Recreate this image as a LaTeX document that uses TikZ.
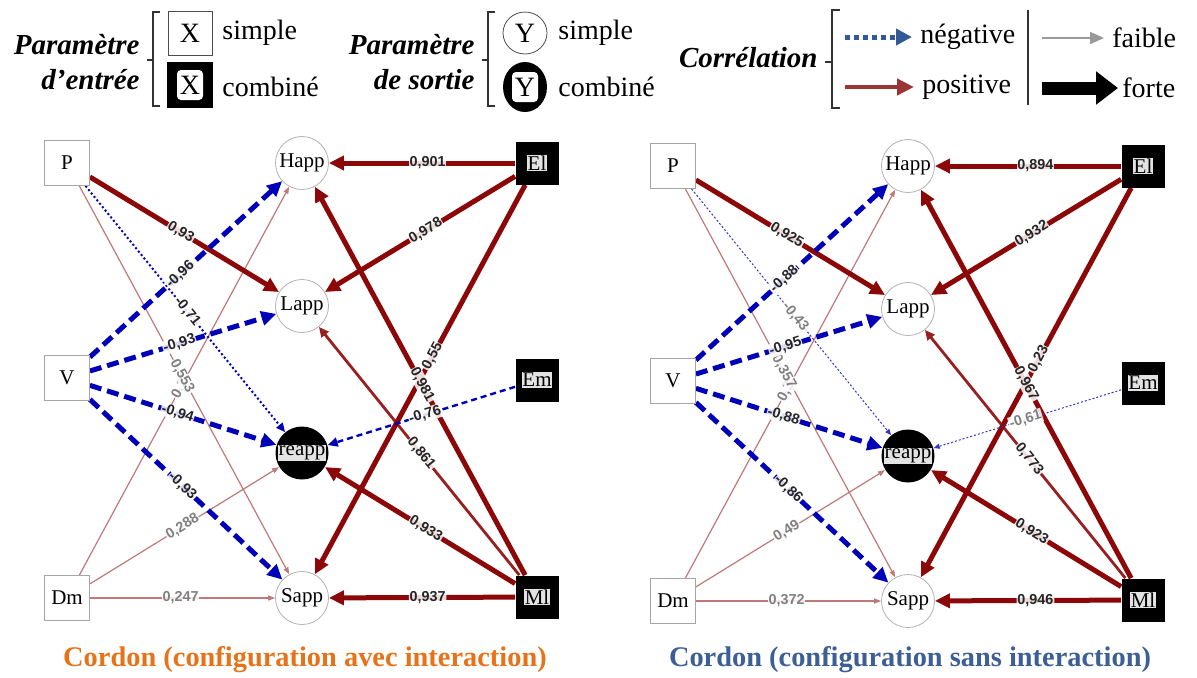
\documentclass[tikz,border=0pt]{standalone}
\usepackage{fontspec}
\setmainfont{Liberation Serif}
\setsansfont{Liberation Sans}
\usepackage{xcolor}
\usepackage{tikz}
\usetikzlibrary{
  positioning,
  arrows.meta,
  shapes.geometric
}
\definecolor{rougefonce}{RGB}{140,8,8}
\definecolor{rougeclair}{RGB}{192,120,120}
\definecolor{bleufonce}{RGB}{0,0,185}
\definecolor{bleuleg}{RGB}{50,90,150}
\definecolor{rougeleg}{RGB}{155,52,52}
\definecolor{orangetitre}{RGB}{230,115,25}
\definecolor{bleutitre}{RGB}{60,95,150}
\pgfdeclarelayer{fond}
\pgfsetlayers{fond,main}
% arete : style, depart, arrivee, style de l'etiquette, etiquette
\newcommand{\arete}[5]{%
  \begin{pgfonlayer}{fond}
    \draw[#1] (#2) -- (#3);
  \end{pgfonlayer}
  \path (#2) -- node[#4] {#5} (#3);
}

\begin{document}
\begin{tikzpicture}[
    x=0.5pt, y=-0.5pt,
    txtnoeud/.style={font=\fontsize{10.5}{12}\selectfont},
    entree/.style={draw=gray!70, fill=white, minimum size=22.5pt, inner sep=0pt, txtnoeud},
    entreecomb/.style={fill=black, minimum size=21.5pt, inner sep=0pt},
    sortie/.style={draw=gray!60, circle, minimum size=26.5pt, inner sep=0pt, fill=white, txtnoeud},
    sortiecomb/.style={fill=black, circle, minimum size=26.5pt, inner sep=0pt},
    etiqcomb/.style={fill=gray!22, inner sep=0.4pt, txtnoeud},
    lab/.style={sloped, pos=0.47, fill=white, fill opacity=0.85, text opacity=1, inner sep=0.4pt,
        font=\sffamily\bfseries\fontsize{7.2}{8}\selectfont, text=black!85},
    labf/.style={lab, text=gray},
    fortpos/.style={draw=rougefonce, line width=2.5pt, -{Triangle[length=7.5pt,width=7pt]}},
    moypos/.style={draw=rougefonce!90, line width=1.4pt, -{Triangle[length=5pt,width=4.5pt]}},
    faiblepos/.style={draw=rougeclair, line width=0.6pt, -{Triangle[length=3.5pt,width=2.5pt]}},
    fortneg/.style={draw=bleufonce, line width=2.5pt, dash pattern=on 6pt off 3pt, -{Triangle[length=7.5pt,width=7pt]}},
    moyneg/.style={draw=bleufonce, line width=1.2pt, dash pattern=on 3pt off 2pt, -{Triangle[length=5pt,width=4.5pt]}},
    pointneg/.style={draw=bleufonce, line width=1pt, dash pattern=on 1pt off 1.2pt, -{Triangle[length=4.5pt,width=4pt]}},
    faibleneg/.style={draw=bleufonce!80, line width=0.5pt, dash pattern=on 1pt off 1pt, -{Triangle[length=3pt,width=2.5pt]}},
    legtxt/.style={font=\fontsize{14}{16}\selectfont, anchor=west, inner sep=0pt},
    legtitre/.style={font=\bfseries\itshape\fontsize{14.5}{16}\selectfont, anchor=east, inner sep=0pt},
    legcrochet/.style={draw=black!80, line width=0.6pt}
]
    \useasboundingbox (0,0) rectangle (1197,677);

    % legende : parametre d'entree
    \node[legtitre] (tin1) at (140,45) {Paramètre};
    \node[legtitre] (tin2) at (140,80) {d’entrée};
    \draw[legcrochet] (160,12) -- (153,12) -- (153,106) -- (160,106);
    \draw[legcrochet] (147,60) -- (153,60);
    \node[draw=black!70, minimum size=22pt, inner sep=0pt, font=\fontsize{14}{16}\selectfont] (xs) at (190,33) {X};
    \node[fill=black, minimum size=23pt] (xc) at (190,85) {};
    \node[fill=white, rounded corners=2pt, minimum width=13pt, minimum height=15pt, inner sep=0pt,
        font=\fontsize{14}{16}\selectfont] (xct) at (xc) {X};
    \node[legtxt] (ls1) at (222,33) {simple};
    \node[legtxt] (lc1) at (222,87) {combiné};

    % legende : parametre de sortie
    \node[legtitre] (tout1) at (475,45) {Paramètre};
    \node[legtitre] (tout2) at (475,80) {de sortie};
    \draw[legcrochet] (495,12) -- (488,12) -- (488,106) -- (495,106);
    \draw[legcrochet] (482,60) -- (488,60);
    \node[draw=black!70, ellipse, minimum width=22pt, minimum height=21pt, inner sep=0pt,
        font=\fontsize{14}{16}\selectfont] (ys) at (525,33) {Y};
    \node[fill=black, ellipse, minimum width=22pt, minimum height=25pt] (yc) at (525,87) {};
    \node[fill=white, rounded corners=2pt, minimum width=13pt, minimum height=15pt, inner sep=0pt,
        font=\fontsize{14}{16}\selectfont] (yct) at (yc) {Y};
    \node[legtxt] (ls2) at (558,33) {simple};
    \node[legtxt] (lc2) at (558,87) {combiné};

    % legende : correlation
    \node[legtitre] (tcor) at (818,58) {Corrélation};
    \draw[legcrochet] (840,10) -- (832,10) -- (832,108) -- (840,108);
    \draw[legcrochet] (825,62) -- (832,62);
    \coordinate (n1) at (845,37);
    \coordinate (n2) at (912,37);
    \draw[draw=bleuleg, line width=2.5pt, dash pattern=on 2.5pt off 2pt, -{Triangle[length=8pt,width=8pt]}] (n1) -- (n2);
    \node[legtxt] (lneg) at (920,37) {négative};
    \coordinate (p1) at (845,87);
    \coordinate (p2) at (914,87);
    \draw[draw=rougeleg, line width=2.2pt, -{Triangle[length=8.5pt,width=8pt]}] (p1) -- (p2);
    \node[legtxt] (lpos) at (922,87) {positive};
    \draw[legcrochet] (1028,10) -- (1028,105);
    \coordinate (f1) at (1042,38);
    \coordinate (f2) at (1104,38);
    \draw[draw=gray!80, line width=0.8pt, -{Triangle[length=7pt,width=6pt]}] (f1) -- (f2);
    \node[legtxt] (lfai) at (1112,38) {faible};
    \coordinate (g1) at (1042,88);
    \coordinate (g2) at (1118,88);
    \draw[draw=black, line width=6.5pt, -{Triangle[length=11pt,width=16pt]}] (g1) -- (g2);
    \node[legtxt] (lfor) at (1122,88) {forte};

    % noeuds des deux configurations
    \foreach \c/\dx/\dy in {a/0/0, s/606/3} {
        \node[entree] (\c P) at (67+\dx,163+\dy) {P};
        \node[entree] (\c V) at (67+\dx,378+\dy) {V};
        \node[entree] (\c Dm) at (67+\dx,598+\dy) {Dm};
        \node[sortie] (\c Happ) at (302+\dx,163+\dy) {Happ};
        \node[sortie] (\c Lapp) at (302+\dx,306+\dy) {Lapp};
        \node[sortiecomb] (\c reapp) at (302+\dx,453+\dy) {};
        \node[etiqcomb] (\c reappt) at (\c reapp) {reapp};
        \node[sortie] (\c Sapp) at (302+\dx,598+\dy) {Sapp};
        \node[entreecomb] (\c El) at (537+\dx,163+\dy) {};
        \node[etiqcomb] (\c Elt) at (\c El) {El};
        \node[entreecomb] (\c Em) at (537+\dx,380+\dy) {};
        \node[etiqcomb] (\c Emt) at (\c Em) {Em};
        \node[entreecomb] (\c Ml) at (537+\dx,597+\dy) {};
        \node[etiqcomb] (\c Mlt) at (\c Ml) {Ml};
    }

    % configuration avec interaction : entrees
    \arete{faiblepos}{aDm}{aHapp}{labf, pos=0.48}{0,2}
    \arete{faiblepos}{aP}{aSapp}{labf, pos=0.49}{0,553}
    \arete{faiblepos}{aDm}{areapp}{labf, pos=0.49}{0,288}
    \arete{faiblepos}{aDm}{aSapp}{labf, pos=0.49}{0,247}
    \arete{pointneg}{aP}{areapp}{lab, pos=0.51}{-0,71}
    \arete{fortpos}{aP}{aLapp}{lab, pos=0.48}{0,93}
    \arete{fortneg}{aV}{aHapp}{lab, pos=0.47}{-0,96}
    \arete{fortneg}{aV}{aLapp}{lab, pos=0.48}{-0,93}
    \arete{fortneg}{aV}{areapp}{lab, pos=0.47}{-0,94}
    \arete{fortneg}{aV}{aSapp}{lab, pos=0.48}{-0,93}

    % configuration avec interaction : parametres combines
    \arete{moypos}{aMl}{aLapp}{lab, pos=0.49}{0,861}
    \arete{fortpos}{aEl}{aHapp}{lab}{0,901}
    \arete{fortpos}{aEl}{aLapp}{lab}{0,978}
    \arete{fortpos}{aEl}{aSapp}{lab, pos=0.44}{0,55}
    \arete{fortpos}{aMl}{aHapp}{lab, pos=0.49}{0,981}
    \arete{fortpos}{aMl}{areapp}{lab}{0,933}
    \arete{fortpos}{aMl}{aSapp}{lab}{0,937}
    \arete{moyneg}{aEm}{areapp}{lab, pos=0.48}{-0,76}

    % configuration sans interaction : entrees
    \arete{faiblepos}{sDm}{sHapp}{labf, pos=0.48}{0,3}
    \arete{faiblepos}{sP}{sSapp}{labf, pos=0.47}{0,357}
    \arete{faiblepos}{sDm}{sreapp}{labf, pos=0.48}{0,49}
    \arete{faiblepos}{sDm}{sSapp}{labf, pos=0.49}{0,372}
    \arete{faibleneg}{sP}{sreapp}{labf, pos=0.52}{-0,43}
    \arete{fortpos}{sP}{sLapp}{lab, pos=0.48}{0,925}
    \arete{fortneg}{sV}{sHapp}{lab, pos=0.46}{-0,88}
    \arete{fortneg}{sV}{sLapp}{lab, pos=0.48}{-0,95}
    \arete{fortneg}{sV}{sreapp}{lab, pos=0.47}{-0,88}
    \arete{fortneg}{sV}{sSapp}{lab, pos=0.48}{-0,86}

    % configuration sans interaction : parametres combines
    \arete{moypos}{sMl}{sLapp}{lab, pos=0.48}{0,773}
    \arete{fortpos}{sEl}{sHapp}{lab, pos=0.46}{0,894}
    \arete{fortpos}{sEl}{sLapp}{lab}{0,932}
    \arete{fortpos}{sEl}{sSapp}{lab, pos=0.44}{0,23}
    \arete{fortpos}{sMl}{sHapp}{lab, pos=0.5}{0,967}
    \arete{fortpos}{sMl}{sreapp}{lab}{0,923}
    \arete{fortpos}{sMl}{sSapp}{lab, pos=0.46}{0,946}
    \arete{faibleneg}{sEm}{sreapp}{labf, pos=0.51}{-0,61}

    % titres
    \node[font=\bfseries\fontsize{14.2}{16}\selectfont, text=orangetitre] (titavec) at (305,660) {Cordon (configuration avec interaction)};
    \node[font=\bfseries\fontsize{14.2}{16}\selectfont, text=bleutitre] (titsans) at (910,660) {Cordon (configuration sans interaction)};
\end{tikzpicture}
\end{document}
